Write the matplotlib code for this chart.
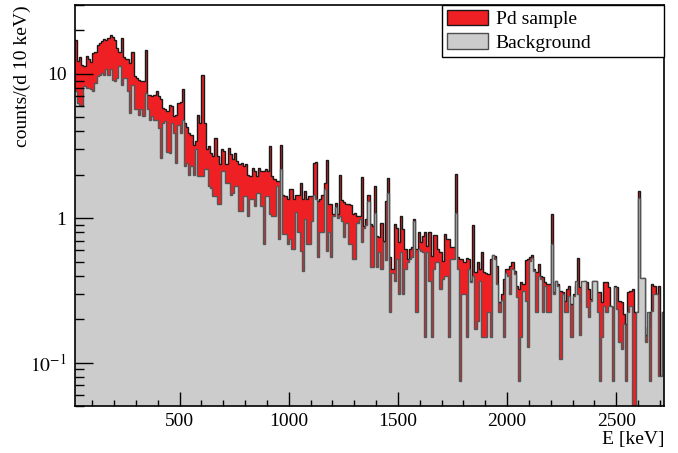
import numpy as np
import matplotlib
matplotlib.use('Agg')
import matplotlib.pyplot as plt
from matplotlib.patches import Patch
from matplotlib.ticker import MultipleLocator, LogLocator, FixedLocator, FixedFormatter, NullFormatter

# 10 keV bins from 20 keV to 2720 keV
bin_edges = np.arange(20, 2721, 10)

# Pd sample spectrum (counts per day per 10 keV)
pd_counts = [
    17.3, 12.2, 13.2, 11.6, 11.3, 13.4, 12.7, 12.0, 14.0, 14.2,
    15.9, 16.4, 17.0, 17.5, 17.1, 17.7, 18.7, 18.0, 17.1, 15.1,
    14.3, 17.7, 13.1, 12.6, 12.7, 11.9, 14.3, 9.6, 9.4, 9.1,
    8.9, 8.9, 14.7, 7.2, 7.1, 7.0, 7.2, 7.6, 7.0, 6.7,
    5.8, 5.7, 5.5, 6.1, 6.0, 5.1, 5.2, 6.3, 6.4, 7.8,
    4.6, 4.3, 3.9, 3.8, 3.2,
    3.42, 5.2, 4.6, 9.9, 4.6, 3.0, 3.16, 2.85, 2.7, 3.6,
    2.7, 2.36, 3.0, 2.92, 2.36, 3.08, 2.77, 2.56, 2.85, 2.49,
    2.36, 2.42, 2.3, 2.36, 2.0, 1.96, 2.24, 2.12, 1.96, 2.24,
    2.12, 2.12, 2.18, 2.12, 3.16, 1.96, 1.86, 1.81, 1.81, 3.24,
    1.46, 1.43, 1.35, 1.59, 1.6, 1.35, 1.46, 1.46, 1.76, 1.35,
    1.54, 1.35, 1.43, 1.43,
    2.42, 2.45, 1.32, 1.35, 1.46, 1.76, 2.53, 1.25, 1.25, 1.07,
    1.28, 1.07, 2.0, 1.34, 1.3, 1.25, 1.25, 1.23, 1.07, 1.08,
    1.04, 1.04, 1.94, 0.885, 0.98, 1.46, 0.91, 0.885, 1.67, 0.755,
    0.74, 0.93, 0.70, 1.32, 1.91, 0.535, 0.444, 0.91, 0.86, 0.68,
    1.04, 0.84, 0.61, 0.52, 0.61, 0.63, 0.98, 0.61, 0.80, 0.68,
    0.755, 0.80, 0.645,
    0.804, 0.549, 0.763, 0.763, 0.61, 0.58, 0.507, 0.775, 0.716, 0.716,
    0.627, 0.627, 2.01, 0.535, 0.52, 0.52, 0.494, 0.527, 0.52, 0.369,
    0.895, 0.421, 0.494, 0.444, 0.58, 0.421, 0.417, 0.41, 0.52, 0.56,
    0.549, 0.468, 0.262, 0.30, 0.379, 0.444, 0.444, 0.468, 0.494, 0.432,
    0.34, 0.323, 0.363, 0.35, 0.515, 0.52, 0.535, 0.555, 0.444, 0.421,
    0.48, 0.40, 0.39, 0.36,
    0.35, 0.35, 1.07, 0.31, 0.369, 0.35, 0.315, 0.307, 0.268, 0.323,
    0.337, 0.255, 0.30, 0.34, 0.527, 0.332, 0.332, 0.369, 0.36, 0.323,
    0.276, 0.369, 0.369, 0.307, 0.307, 0.262, 0.36, 0.36, 0.332, 0.248,
    0.242, 0.337, 0.332, 0.268, 0.262, 0.217, 0.185, 0.31, 0.315, 0.323,
    0.223, 0.223, 1.54, 0.22, 0.383, 0.154, 0.176, 0.223, 0.35, 0.34,
    0.30, 0.34, 0.081, 0.223,
]

# background spectrum
bg_counts = [
    7.6, 6.3, 6.1, 6.0, 8.2, 8.0, 8.0, 7.8, 7.6, 8.7,
    9.6, 9.8, 10.2, 9.8, 10.8, 9.8, 10.8, 9.1, 8.9, 9.4,
    11.3, 8.4, 9.4, 9.4, 7.6, 5.4, 8.4, 5.7, 5.7, 5.2,
    5.7, 5.1, 7.4, 5.7, 4.8, 5.1, 4.8, 4.8, 4.2, 2.6,
    4.6, 4.7, 2.9, 2.85, 4.6, 3.9, 2.4, 4.45, 3.9, 4.8,
    2.3, 2.4, 2.0, 2.3, 2.0,
    3.0, 1.96, 1.96, 1.96, 2.18, 2.18, 1.67, 1.63, 1.43, 1.43,
    1.25, 1.25, 2.12, 2.12, 1.76, 1.76, 1.46, 1.5, 1.67, 1.67,
    1.12, 1.12, 1.43, 1.43, 1.04, 1.35, 1.35, 1.22, 1.5, 1.5,
    1.22, 0.66, 1.43, 1.43, 1.07, 1.04, 1.04, 1.67, 0.716, 2.18,
    0.775, 0.775, 0.66, 0.716, 0.61, 0.61, 1.1, 0.8, 0.59, 0.43,
    0.98, 0.66, 0.66, 0.96,
    1.46, 1.35, 0.535, 0.80, 0.80, 1.59, 0.59, 0.80, 0.535, 1.04,
    1.2, 1.0, 1.04, 0.96, 0.74, 0.93, 0.66, 0.66, 0.52, 0.52,
    0.93, 0.98, 0.68, 0.85, 0.9, 1.32, 0.456, 0.456, 1.09, 0.456,
    0.58, 0.444, 0.68, 0.51, 1.5, 0.223, 0.42, 0.37, 0.52, 0.30,
    0.58, 0.30, 0.444, 0.5, 0.52, 0.535, 0.96, 0.223, 0.61, 0.59,
    0.58, 0.15, 0.58,
    0.369, 0.15, 0.444, 0.494, 0.494, 0.323, 0.379, 0.40, 0.40, 0.15,
    0.52, 0.52, 1.09, 0.444, 0.075, 0.30, 0.30, 0.15, 0.444, 0.36,
    0.40, 0.171, 0.195, 0.369, 0.15, 0.15, 0.15, 0.223, 0.15, 0.56,
    0.52, 0.35, 0.223, 0.27, 0.15, 0.42, 0.40, 0.30, 0.444, 0.41,
    0.283, 0.075, 0.15, 0.315, 0.268, 0.128, 0.507, 0.53, 0.432, 0.223,
    0.40, 0.38, 0.223, 0.34,
    0.223, 0.223, 0.66, 0.30, 0.369, 0.34, 0.106, 0.30, 0.223, 0.223,
    0.29, 0.15, 0.29, 0.369, 0.30, 0.154, 0.369, 0.369, 0.242, 0.206,
    0.268, 0.369, 0.369, 0.223, 0.075, 0.15, 0.248, 0.223, 0.248, 0.248,
    0.075, 0.332, 0.235, 0.138, 0.124, 0.185, 0.075, 0.223, 0.248, 0.04,
    0.04, 0.223, 1.39, 0.383, 0.383, 0.138, 0.223, 0.075, 0.229, 0.30,
    0.30, 0.081, 0.081, 0.223,
]

y_ticks = [0.1, 1, 10]
y_tick_labels = ['$10^{-1}$', '1', '10']

plt.rcParams['font.family'] = ['Liberation Serif', 'DejaVu Serif']
plt.rcParams['mathtext.fontset'] = 'stix'

red = '#ee2024'
grey = '#cccccc'
fs = 14

fig = plt.figure(figsize=(6.78, 4.53), dpi=100)
ax = fig.add_axes([0.1102, 0.1038, 0.8696, 0.885])

ax.stairs(pd_counts, bin_edges, fill=True, color=red, baseline=1e-3, lw=0)
ax.stairs(pd_counts, bin_edges, baseline=None, color='#1a1a1a', lw=1.0)
ax.stairs(bg_counts, bin_edges, fill=True, color=grey, baseline=1e-3, lw=0)
ax.stairs(bg_counts, bin_edges, baseline=None, color='#555555', lw=1.0)

ax.set_yscale('log')
ax.set_xlim(20, 2720)
ax.set_ylim(0.05, 30)

ax.xaxis.set_major_locator(MultipleLocator(500))
ax.xaxis.set_minor_locator(MultipleLocator(100))
ax.yaxis.set_major_locator(FixedLocator(y_ticks))
ax.yaxis.set_major_formatter(FixedFormatter(y_tick_labels))
ax.yaxis.set_minor_locator(LogLocator(base=10, subs=np.arange(2, 10)))
ax.yaxis.set_minor_formatter(NullFormatter())

ax.tick_params(which='both', direction='in', top=False, right=False,
               labelsize=fs, width=1)
ax.tick_params(axis='y', which='major', length=13, pad=6)
ax.tick_params(axis='y', which='minor', length=6.5)
ax.tick_params(axis='x', which='major', length=10, pad=5)
ax.tick_params(axis='x', which='minor', length=4.5)
for s in ax.spines.values():
    s.set_linewidth(1.2)

ax.set_xlabel('E [keV]', loc='right', fontsize=fs, labelpad=1)
ax.set_ylabel('counts/(d 10 keV)', loc='top', fontsize=fs)
ax.yaxis.set_label_coords(-0.074, 1.0)

handles = [Patch(facecolor=red, edgecolor='#1a1a1a', lw=1.0),
           Patch(facecolor=grey, edgecolor='#4d4d4d', lw=1.0)]
leg = ax.legend(handles, ['Pd sample', 'Background'], loc='upper left',
                bbox_to_anchor=(0.623, 1.0, 0.377, 0.0), mode='expand',
                borderaxespad=0, fontsize=fs, fancybox=False, framealpha=1,
                edgecolor='black', handlelength=2.1, handleheight=0.85,
                handletextpad=0.4, labelspacing=0.25, borderpad=0.25)
leg.get_frame().set_linewidth(1.0)

fig.savefig('out.png', dpi=100)
